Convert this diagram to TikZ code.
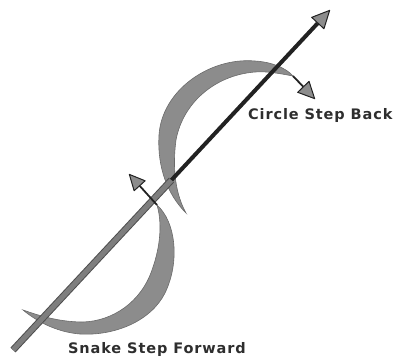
\documentclass[tikz,border=0pt]{standalone}
\usepackage{fontspec}
\usepackage{tikz}
\usetikzlibrary{arrows.meta,calc}
\newfontfamily\steplabelfont[LetterSpace=6]{DejaVu Sans}
\definecolor{swoopgray}{HTML}{8C8C8C}
\definecolor{swoopedge}{HTML}{6A6A6A}
\definecolor{shaftgray}{HTML}{7E7E7E}
\definecolor{shaftdark}{HTML}{4E4E4E}
\definecolor{inkblack}{HTML}{222222}
\definecolor{labelink}{HTML}{2E2E2E}
\tikzset{
  swoop/.style={fill=swoopgray, draw=swoopedge, line width=0.6pt},
  headtip/.style={-{Triangle[length=#1, width=0.95*#1, fill=swoopgray,
    line width=1pt, round]}},
  headtip/.default=18pt,
  thinshaft/.style={draw=inkblack, line width=1.8pt},
  steplabel/.style={font=\steplabelfont\bfseries\fontsize{14.5}{18}\selectfont,
    text=labelink, inner sep=0pt}
}
\begin{document}
\begin{tikzpicture}[x=1pt, y=-1pt]
    \useasboundingbox (0,0) rectangle (405,360);
    % main line
    \coordinate (linestart) at (13,350);
    \coordinate (linetip) at (330,10);
    \coordinate (linemid) at ($(linestart)!0.5!(linetip)$);
    % upper swoop (circle step back)
    \coordinate (backtail) at (186,213);
    \coordinate (backend) at (293,76);
    \coordinate (backtip) at (315,99);
    \fill[swoop] (backtail) .. controls (168,195) and (157,168) .. (159,135)
        .. controls (162,90) and (210,57) .. (255,61)
        .. controls (272,62) and (286,68) .. (backend)
        .. controls (282,74) and (268,71) .. (255,72)
        .. controls (216,75) and (183,102) .. (176,140)
        .. controls (172,170) and (176,195) .. (backtail) -- cycle;
    % lower swoop (snake step forward)
    \coordinate (snaketop) at (157,205);
    \coordinate (snaketail) at (23,310);
    \coordinate (snaketip) at (129,174);
    \fill[swoop] (snaketop) .. controls (176,222) and (180,262) .. (165,293)
        .. controls (151,321) and (115,336) .. (80,334)
        .. controls (55,332) and (35,320) .. (snaketail)
        .. controls (40,316) and (60,322) .. (83,322)
        .. controls (113,321) and (141,302) .. (152,270)
        .. controls (161,245) and (162,222) .. (snaketop) -- cycle;
    % shaft of the main arrow
    \draw[shaftdark, line width=7pt] (linestart) -- (linemid);
    \draw[shaftgray, line width=5pt] (linestart) -- (linemid);
    \draw[inkblack, line width=4pt, headtip=19pt] (linemid) -- (linetip);
    % short arrows
    \draw[thinshaft, headtip] (backend) -- (backtip);
    \draw[thinshaft, headtip=17pt] (snaketop) -- (snaketip);
    % labels
    \node[steplabel, anchor=base west] (backlabel) at (248,119) {Circle Step Back};
    \node[steplabel, anchor=base west] (fwdlabel) at (68,353) {Snake Step Forward};
\end{tikzpicture}
\end{document}
